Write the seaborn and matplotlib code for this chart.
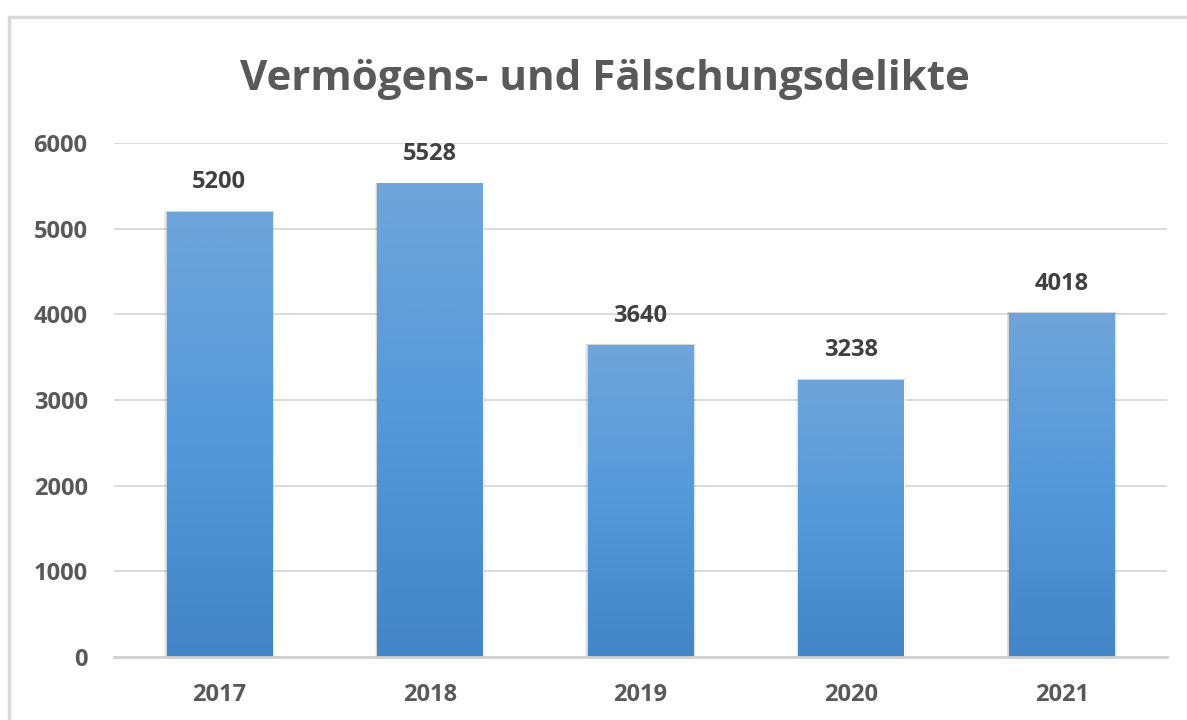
import matplotlib
matplotlib.use("Agg")
import matplotlib.pyplot as plt
import matplotlib.patches as mpatches
from matplotlib.colors import LinearSegmentedColormap
import numpy as np
import pandas as pd
import seaborn as sns

# chart data
years = ["2017", "2018", "2019", "2020", "2021"]
cases = [5200, 5528, 3640, 3238, 4018]
title = "Vermögens- und Fälschungsdelikte"

df = pd.DataFrame({"year": years, "cases": cases})

sns.set_theme(style="white")
plt.rcParams["font.family"] = ["Open Sans", "DejaVu Sans"]

fig = plt.figure(figsize=(11.87, 7.2), dpi=100)
ax = fig.add_axes([114 / 1187, 1 - 657 / 720, 1053 / 1187, 514 / 720])

sns.barplot(data=df, x="year", y="cases", color="#5b9bd5", width=0.5,
            saturation=1, ax=ax, zorder=3)

ax.set_ylim(0, 6000)
ax.set_xlim(-0.5, len(years) - 0.5)
ax.set_yticks(range(0, 6001, 1000))
ax.yaxis.grid(True, color="#d9d9d9", linewidth=1.3, zorder=0)
ax.set_axisbelow(True)
for side in ["top", "right", "left"]:
    ax.spines[side].set_visible(False)
ax.spines["bottom"].set_color("#d0d0d0")
ax.spines["bottom"].set_linewidth(2)
ax.spines["bottom"].set_zorder(4)
ax.set_xlabel("")
ax.set_ylabel("")
ax.tick_params(axis="both", length=0, labelsize=17, labelcolor="#595959")
ax.tick_params(axis="y", pad=19)
ax.tick_params(axis="x", pad=19)
for lbl in ax.get_xticklabels() + ax.get_yticklabels():
    lbl.set_fontweight("bold")

# gradient fill + soft shadow on each bar
cmap = LinearSegmentedColormap.from_list("bar", ["#4385c6", "#5499da", "#6fa5da"])
grad = np.linspace(0, 1, 256).reshape(-1, 1)
for patch in list(ax.patches):
    x0, y0 = patch.get_x(), patch.get_y()
    w, h = patch.get_width(), patch.get_height()
    for k, a in zip([0.012, 0.008, 0.004], [0.05, 0.07, 0.09]):
        ax.add_patch(mpatches.Rectangle((x0 - k, y0), w + 2 * k, h + 8,
                                        facecolor="black", alpha=a,
                                        edgecolor="none", zorder=2))
    im = ax.imshow(grad, cmap=cmap, origin="lower", aspect="auto",
                   extent=[x0, x0 + w, y0, y0 + h], zorder=3.5)
    im.set_clip_path(patch)
    ax.text(x0 + w / 2, y0 + h + 340, f"{int(h)}", ha="center", va="center",
            fontsize=17, fontweight="bold", color="#404040", zorder=5)

ax.set_xlim(-0.5, len(years) - 0.5)
ax.set_ylim(0, 6000)

fig.text(604.5 / 1187, 1 - 90 / 720, title, ha="center", va="baseline",
         fontsize=30.3, fontweight="bold", color="#595959")

# chart frame (clipped at right/bottom like the source)
fig.patches.append(mpatches.Rectangle((9 / 1187, -0.05), 1.2, 1 - 17 / 720 + 0.05,
                                      transform=fig.transFigure, fill=False,
                                      edgecolor="#d9d9d9", linewidth=2.5))

fig.savefig("out.png", dpi=100)
